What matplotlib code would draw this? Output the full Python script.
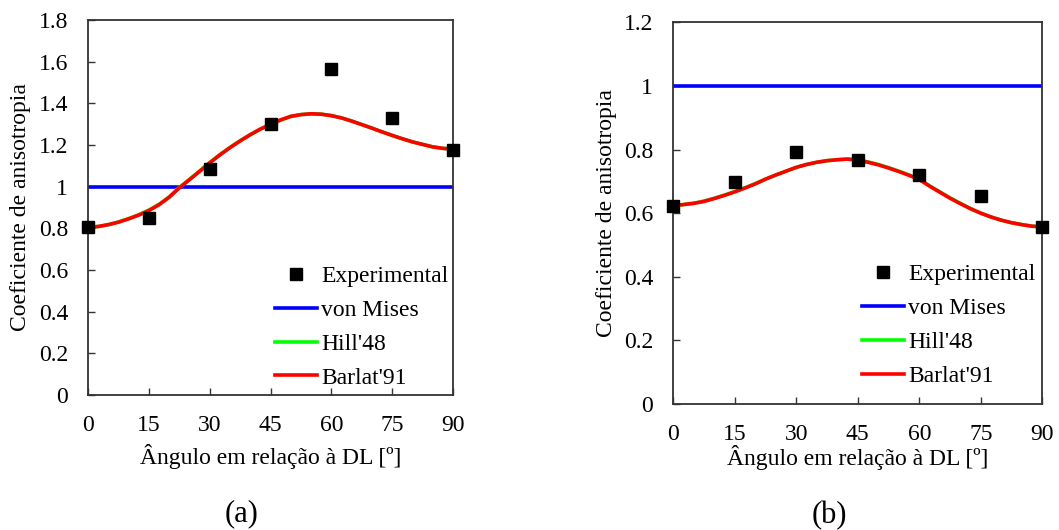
import matplotlib
matplotlib.use("Agg")
import matplotlib.pyplot as plt

plt.rcParams['font.family'] = ['Liberation Serif', 'DejaVu Serif']

# angles of the experimental tests
angles_exp = [0, 15, 30, 45, 60, 75, 90]
angles_curve = [0, 2.5, 5, 7.5, 10, 12.5, 15, 17.5, 20, 22.5, 25, 27.5, 30, 32.5,
                35, 37.5, 40, 42.5, 45, 47.5, 50, 52.5, 55, 57.5, 60, 62.5, 65,
                67.5, 70, 72.5, 75, 77.5, 80, 82.5, 85, 87.5, 90]

# (a)
exp_a = [0.805, 0.848, 1.085, 1.30, 1.565, 1.331, 1.176]
mises_a = [1.0, 1.0]
barlat_a = [0.805, 0.809, 0.818, 0.830, 0.846, 0.864, 0.886, 0.914, 0.950, 0.995,
            1.034, 1.074, 1.115, 1.153, 1.188, 1.220, 1.250, 1.277, 1.299, 1.321,
            1.338, 1.346, 1.350, 1.348, 1.341, 1.330, 1.315, 1.298, 1.281, 1.263,
            1.246, 1.230, 1.215, 1.203, 1.191, 1.184, 1.180]
hill_a = [0.805, 0.809, 0.818, 0.831, 0.847, 0.866, 0.888, 0.916, 0.952, 0.997,
          1.036, 1.076, 1.117, 1.154, 1.189, 1.221, 1.250, 1.277, 1.299, 1.320,
          1.337, 1.346, 1.350, 1.348, 1.341, 1.330, 1.315, 1.298, 1.281, 1.263,
          1.246, 1.230, 1.215, 1.203, 1.191, 1.184, 1.180]

# (b)
exp_b = [0.623, 0.699, 0.791, 0.767, 0.720, 0.654, 0.556]
mises_b = [1.0, 1.0]
barlat_b = [0.624, 0.627, 0.631, 0.637, 0.646, 0.656, 0.667, 0.679, 0.692, 0.707,
            0.720, 0.732, 0.744, 0.753, 0.760, 0.765, 0.768, 0.770, 0.767, 0.760,
            0.752, 0.742, 0.731, 0.719, 0.706, 0.685, 0.666, 0.647, 0.630, 0.614,
            0.600, 0.588, 0.578, 0.570, 0.564, 0.559, 0.557]
hill_b = [0.624, 0.627, 0.631, 0.638, 0.647, 0.657, 0.668, 0.680, 0.693, 0.707,
          0.720, 0.732, 0.744, 0.753, 0.760, 0.765, 0.768, 0.770, 0.767, 0.761,
          0.753, 0.743, 0.732, 0.720, 0.707, 0.686, 0.667, 0.648, 0.631, 0.614,
          0.600, 0.588, 0.578, 0.570, 0.564, 0.559, 0.557]

fig = plt.figure(figsize=(10.59, 5.30), dpi=100)
ax1 = fig.add_axes([0.0834, 0.2547, 0.3444, 0.7075])
ax2 = fig.add_axes([0.6358, 0.2377, 0.3484, 0.7202])


def draw(ax, exp, mises, hill, barlat, ymax, yticklabels, xlab_y, ylab_x, leg_anchor):
    ax.plot(angles_exp, exp, 's', color='black', markersize=8.5, clip_on=False,
            label='Experimental', zorder=5)
    ax.plot([0, 90], mises, color='#0000ff', lw=2.6, label='von Mises')
    ax.plot(angles_curve, hill, color='#00ff00', lw=2.6, label="Hill'48")
    ax.plot(angles_curve, barlat, color='#ff0000', lw=2.6, label="Barlat'91")
    ax.set_xlim(0, 90)
    ax.set_ylim(0, ymax)
    ax.set_xticks(angles_exp)
    ax.set_yticks([i * 0.2 for i in range(len(yticklabels))])
    ax.set_yticklabels(yticklabels)
    ax.tick_params(direction='in', length=5, width=1.0, labelsize=17,
                   colors='#333333', labelcolor='black')
    ax.tick_params(axis='x', pad=14.5)
    ax.tick_params(axis='y', pad=14.5)
    for s in ax.spines.values():
        s.set_linewidth(1.3)
        s.set_color('#333333')
    ax.set_xlabel('Ângulo em relação à DL [º]', fontsize=17)
    ax.set_ylabel('Coeficiente de anisotropia', fontsize=17)
    ax.xaxis.set_label_coords(0.5, xlab_y)
    ax.xaxis.label.set_verticalalignment('center')
    ax.yaxis.set_label_coords(ylab_x, 0.5)
    ax.yaxis.label.set_verticalalignment('center')
    ax.legend(loc='lower right', frameon=False, fontsize=17, handlelength=1.78,
              handletextpad=0.18, labelspacing=0.52, borderpad=0, borderaxespad=0,
              bbox_to_anchor=leg_anchor)


draw(ax1, exp_a, mises_a, hill_a, barlat_a, 1.8,
     ['0', '0.2', '0.4', '0.6', '0.8', '1', '1.2', '1.4', '1.6', '1.8'],
     -0.1653, -0.187, (0.988, 0.017))
draw(ax2, exp_b, mises_b, hill_b, barlat_b, 1.2,
     ['0', '0.2', '0.4', '0.6', '0.8', '1', '1.2'],
     -0.141, -0.180, (0.982, 0.045))

fig.text(0.2285, 0.030, '(a)', fontsize=22, ha='center', va='center')
fig.text(0.783, 0.028, '(b)', fontsize=22, ha='center', va='center')

fig.savefig('out.png', dpi=100)
